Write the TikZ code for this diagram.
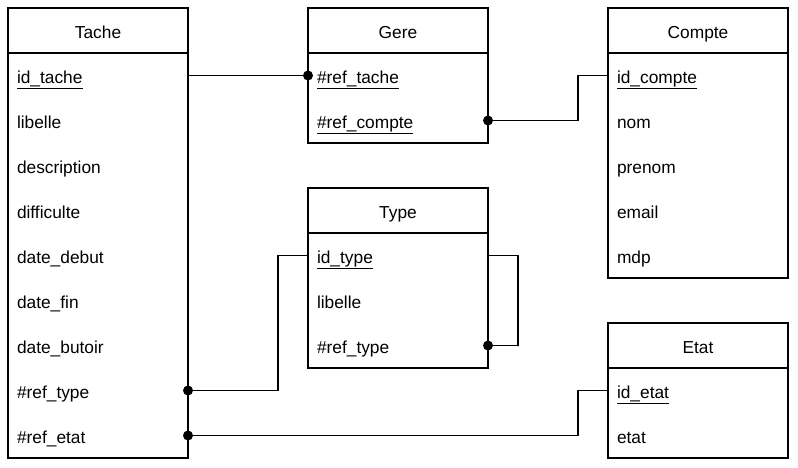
\documentclass[tikz,border=0pt]{standalone}
\usepackage{fontspec}
\setmainfont{Liberation Sans}
\usetikzlibrary{positioning}

\tikzset{
	tablehead/.style={draw, anchor=north west, minimum width=135pt,
		minimum height=33.75pt, inner sep=0pt, outer sep=0pt,
		text height=11.8pt, text depth=0.5pt,
		font=\fontsize{13}{15}\selectfont},
	tablerow/.style={minimum width=135pt, minimum height=33.75pt, inner ysep=0pt,
		inner xsep=6.75pt, outer sep=0pt, text width=121.5pt, align=left,
		text height=11.8pt, text depth=0.5pt,
		font=\fontsize{13}{15}\selectfont},
	link/.style={line width=0.9pt},
	dot/.style={fill=black}
}

\begin{document}
\begin{tikzpicture}[x=0.75pt, y=-0.75pt, line width=0.9pt]
	\useasboundingbox (0,0) rectangle (798,467);

	% Tache
	\node[tablehead] (tache) at (8,8) {Tache};
	\node[tablerow,below=0pt of tache] (tache1) {\underline{id\_tache}};
	\node[tablerow,below=0pt of tache1] (tache2) {libelle};
	\node[tablerow,below=0pt of tache2] (tache3) {description};
	\node[tablerow,below=0pt of tache3] (tache4) {difficulte};
	\node[tablerow,below=0pt of tache4] (tache5) {date\_debut};
	\node[tablerow,below=0pt of tache5] (tache6) {date\_fin};
	\node[tablerow,below=0pt of tache6] (tache7) {date\_butoir};
	\node[tablerow,below=0pt of tache7] (tache8) {\#ref\_type};
	\node[tablerow,below=0pt of tache8] (tache9) {\#ref\_etat};
	\draw (tache.south west) rectangle (tache9.south east);

	% Gere
	\node[tablehead] (gere) at (308,8) {Gere};
	\node[tablerow,below=0pt of gere] (gere1) {\underline{\#ref\_tache}};
	\node[tablerow,below=0pt of gere1] (gere2) {\underline{\#ref\_compte}};
	\draw (gere.south west) rectangle (gere2.south east);

	% Compte
	\node[tablehead] (compte) at (608,8) {Compte};
	\node[tablerow,below=0pt of compte] (compte1) {\underline{id\_compte}};
	\node[tablerow,below=0pt of compte1] (compte2) {nom};
	\node[tablerow,below=0pt of compte2] (compte3) {prenom};
	\node[tablerow,below=0pt of compte3] (compte4) {email};
	\node[tablerow,below=0pt of compte4] (compte5) {mdp};
	\draw (compte.south west) rectangle (compte5.south east);

	% Type
	\node[tablehead] (type) at (308,188) {Type};
	\node[tablerow,below=0pt of type] (type1) {\underline{id\_type}};
	\node[tablerow,below=0pt of type1] (type2) {libelle};
	\node[tablerow,below=0pt of type2] (type3) {\#ref\_type};
	\draw (type.south west) rectangle (type3.south east);

	% Etat
	\node[tablehead] (etat) at (608,323) {Etat};
	\node[tablerow,below=0pt of etat] (etat1) {\underline{id\_etat}};
	\node[tablerow,below=0pt of etat1] (etat2) {etat};
	\draw (etat.south west) rectangle (etat2.south east);

	% liens
	\draw[link] (tache1.east) -- (gere1.west);
	\fill[dot] (gere1.west) circle (3.75pt);

	\draw[link] (gere2.east) -| (578,76) |- (compte1.west);
	\fill[dot] (gere2.east) circle (3.75pt);

	\draw[link] (tache8.east) -| (278,256) |- (type1.west);
	\fill[dot] (tache8.east) circle (3.75pt);

	\draw[link] (type1.east) -| (518,346) |- (type3.east);
	\fill[dot] (type3.east) circle (3.75pt);

	\draw[link] (tache9.east) -| (578,391) |- (etat1.west);
	\fill[dot] (tache9.east) circle (3.75pt);
\end{tikzpicture}
\end{document}
